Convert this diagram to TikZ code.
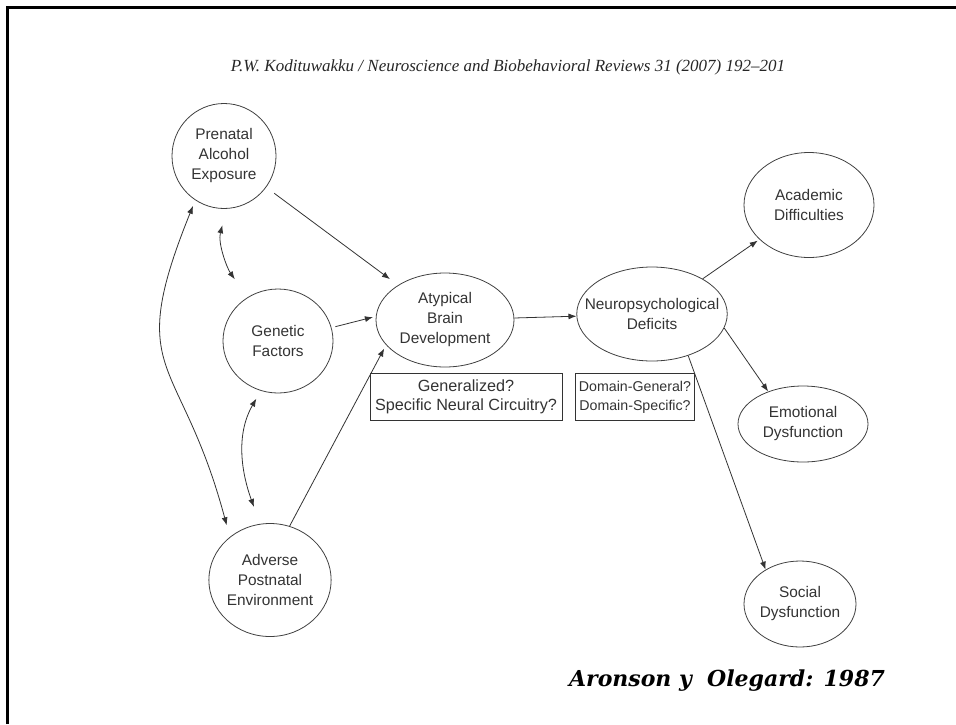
\documentclass[tikz,border=0pt]{standalone}
\usepackage{fontspec}
\setmainfont{Liberation Sans}
\newfontfamily\headfont{Liberation Serif}
\newfontfamily\citefont{DejaVu Serif}
\usetikzlibrary{arrows.meta,shapes.geometric}

\begin{document}
\begin{tikzpicture}[x=1pt, y=1pt,
	bubble/.style={ellipse, draw=black!75, line width=0.8pt, text=black!80, align=center, inner sep=0pt, font=\fontsize{15.4}{20}\selectfont},
	note/.style={rectangle, draw=black!80, line width=0.8pt, text=black!80, align=center, inner xsep=3pt, inner ysep=5pt},
	link/.style={-{Latex[length=8pt,width=6pt]}, black!80, line width=0.8pt},
	twoway/.style={{Latex[length=8pt,width=6pt]}-{Latex[length=8pt,width=6pt]}, black!80, line width=0.8pt}]
	\useasboundingbox (0,0) rectangle (956,-724);
	\draw[line width=3pt] (7,-724) -- (7,-7) -- (956,-7);
	
	\node[anchor=base, font=\headfont\itshape\fontsize{17}{19}\selectfont, text=black!85] (head) at (508,-71) {P.W. Kodituwakku / Neuroscience and Biobehavioral Reviews 31 (2007) 192–201};
	
	\node[bubble, minimum width=104pt, minimum height=105pt] (pren) at (224,-156) {Prenatal\\Alcohol\\Exposure};
	\node[bubble, minimum width=110pt, minimum height=104pt] (gen) at (278,-341) {Genetic\\Factors};
	\node[bubble, minimum width=121pt, minimum height=113pt] (adv) at (270,-580) {Adverse\\Postnatal\\Environment};
	\node[bubble, minimum width=138pt, minimum height=94pt] (atyp) at (445,-320) {Atypical\\Brain\\Development};
	\node[bubble, inner xsep=-14pt, minimum width=150pt, minimum height=94pt] (neuro) at (652,-314) {Neuropsychological\\Deficits};
	\node[bubble, minimum width=130pt, minimum height=105pt] (acad) at (809,-205) {Academic\\Difficulties};
	\node[bubble, minimum width=130pt, minimum height=76pt] (emo) at (803,-424) {Emotional\\Dysfunction};
	\node[bubble, inner xsep=-2pt, minimum width=112pt, minimum height=86pt] (soc) at (800,-604) {Social\\Dysfunction};
	
	\node[note, minimum width=192pt, minimum height=47pt, font=\fontsize{16.2}{19}\selectfont] (circuit) at (466,-397) {Generalized?\\Specific Neural Circuitry?};
	\node[note, minimum width=119pt, minimum height=47pt, font=\fontsize{14.2}{19}\selectfont] (domain) at (635,-397) {Domain-General?\\Domain-Specific?};
	
	\node[anchor=base, font=\citefont\bfseries\itshape\fontsize{22}{26}\selectfont] (cite) at (727,-686) {Aronson y\ \ Olegard: 1987};
	
	\draw[link, shorten <=10pt, shorten >=10pt] (pren) -- (atyp);
	\draw[link, shorten <=4pt, shorten >=3pt] (gen.14) -- (atyp.177);
	\draw[link, shorten >=4pt] (adv.70) -- (atyp.203);
	\draw[link] (atyp) -- (neuro);
	\draw[link, shorten >=2pt] (neuro) -- (acad);
	\draw[link] (neuro.-11) -- (emo.137);
	\draw[link] (neuro.-49) -- (soc.135);
	
	\draw[twoway, shorten <=6pt, shorten >=12pt] (pren.237) to[out=248, in=105, looseness=1.45] (adv.133);
	\draw[twoway, shorten <=17pt, shorten >=22pt] (pren.-87) to[out=255, in=125] (gen.125);
	\draw[twoway, shorten <=9pt, shorten >=18pt] (gen.251) to[out=240, in=110] (adv.100);
\end{tikzpicture}
\end{document}
